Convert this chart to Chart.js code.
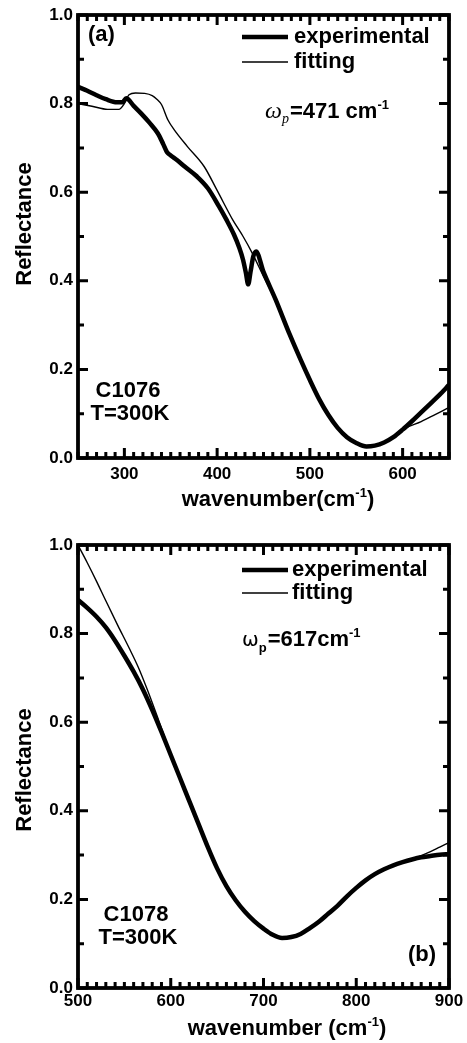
<!DOCTYPE html>
<html>
<head>
<meta charset="utf-8">
<script src="https://cdn.jsdelivr.net/npm/chart.js@4.4.0/dist/chart.umd.min.js"></script>
<style>
    body { margin: 0; background: #fff; }
    #wrap { position: relative; width: 467px; height: 1043px; }
    canvas { position: absolute; left: 0; }
</style>
</head>
<body>
<div id="wrap">
    <canvas id="chartA" width="467" height="520" style="top:0px"></canvas>
    <canvas id="chartB" width="467" height="523" style="top:520px"></canvas>
</div>
<script>
// panel (a): C1076
const waveExpA = [250, 260, 270, 280, 292, 298, 302, 310, 318, 327, 336, 342, 346, 350, 357, 365, 378, 390, 402, 410, 418, 424, 428, 431, 433.5, 436, 439, 442, 450, 463, 478, 490, 500, 510, 520, 530, 540, 550, 561, 570, 580, 590, 600, 610, 620, 630, 640, 650];
const reflExpA = [0.838, 0.829, 0.819, 0.810, 0.803, 0.803, 0.812, 0.795, 0.778, 0.757, 0.733, 0.708, 0.690, 0.683, 0.672, 0.658, 0.636, 0.609, 0.568, 0.538, 0.505, 0.474, 0.447, 0.418, 0.392, 0.420, 0.455, 0.466, 0.420, 0.358, 0.280, 0.222, 0.176, 0.133, 0.097, 0.068, 0.047, 0.034, 0.026, 0.028, 0.035, 0.047, 0.064, 0.083, 0.103, 0.123, 0.143, 0.165];
const waveFitA = [250, 265, 282, 294, 300, 305, 312, 322, 330, 335, 340, 347, 354, 368, 386, 400, 417, 428, 438, 450, 463, 478, 490, 500, 510, 520, 530, 540, 550, 561, 570, 580, 590, 603, 620, 635, 650];
const reflFitA = [0.800, 0.794, 0.787, 0.787, 0.800, 0.820, 0.824, 0.823, 0.818, 0.810, 0.798, 0.763, 0.740, 0.703, 0.658, 0.604, 0.537, 0.500, 0.462, 0.410, 0.356, 0.278, 0.221, 0.175, 0.132, 0.096, 0.067, 0.046, 0.033, 0.025, 0.027, 0.034, 0.046, 0.067, 0.082, 0.098, 0.114];
const xTicksA = [300, 400, 500, 600];

// panel (b): C1078
const waveExpB = [500, 510, 520, 530, 540, 550, 560, 570, 580, 590, 600, 610, 620, 630, 640, 650, 660, 670, 680, 690, 700, 710, 720, 730, 740, 750, 760, 770, 780, 790, 800, 810, 820, 830, 840, 850, 860, 870, 880, 890, 900];
const reflExpB = [0.876, 0.858, 0.838, 0.814, 0.784, 0.750, 0.714, 0.674, 0.628, 0.578, 0.526, 0.474, 0.422, 0.370, 0.318, 0.270, 0.230, 0.198, 0.172, 0.151, 0.134, 0.120, 0.113, 0.115, 0.122, 0.135, 0.150, 0.168, 0.186, 0.207, 0.226, 0.243, 0.257, 0.268, 0.277, 0.284, 0.290, 0.295, 0.298, 0.301, 0.302];
const waveFitB = [500, 510, 520, 530, 543, 555, 565, 575, 587, 600, 610, 620, 630, 640, 650, 660, 670, 680, 690, 700, 710, 720, 730, 740, 750, 760, 770, 780, 790, 800, 810, 820, 830, 840, 850, 860, 870, 880, 890, 900];
const reflFitB = [1.000, 0.960, 0.918, 0.874, 0.818, 0.768, 0.724, 0.672, 0.604, 0.528, 0.474, 0.422, 0.370, 0.318, 0.270, 0.230, 0.198, 0.172, 0.151, 0.134, 0.120, 0.113, 0.115, 0.122, 0.135, 0.150, 0.168, 0.186, 0.207, 0.226, 0.243, 0.257, 0.268, 0.277, 0.284, 0.291, 0.299, 0.308, 0.318, 0.328];
const xTicksB = [500, 600, 700, 800, 900];

const yTicks = [0, 0.2, 0.4, 0.6, 0.8, 1.0];

const BOLD = "bold 22px 'Liberation Sans', Arial, sans-serif";
const SMALL = "bold 13px 'Liberation Sans', Arial, sans-serif";

function toPoints(xs, ys) {
    return xs.map((v, i) => ({ x: v, y: ys[i] }));
}

// draw a string made of pieces, some raised or lowered
function drawPieces(ctx, pieces, x, y) {
    ctx.textAlign = 'left';
    ctx.textBaseline = 'alphabetic';
    let cx = x;
    for (const p of pieces) {
        ctx.font = p.font;
        ctx.fillText(p.t, cx, y + (p.dy || 0));
        cx += ctx.measureText(p.t).width + (p.gap || 0);
    }
}

function piecesWidth(ctx, pieces) {
    let w = 0;
    for (const p of pieces) {
        ctx.font = p.font;
        w += ctx.measureText(p.t).width + (p.gap || 0);
    }
    return w;
}

function framePlugin(opt) {
    return {
        id: 'frame',
        afterDraw(chart) {
            const ctx = chart.ctx;
            const a = chart.chartArea;
            const x = chart.scales.x, y = chart.scales.y;
            ctx.save();
            ctx.strokeStyle = '#000';
            ctx.fillStyle = '#000';

            // inward ticks on all four sides
            ctx.lineWidth = 3;
            ctx.beginPath();
            for (let v = x.min; v <= x.max + 0.01; v += 10) {
                const px = x.getPixelForValue(v);
                const len = (Math.round(v) % 100 === 0) ? 10 : 6;
                ctx.moveTo(px, a.bottom); ctx.lineTo(px, a.bottom - len);
                ctx.moveTo(px, a.top); ctx.lineTo(px, a.top + len);
            }
            for (let i = 0; i <= 10; i++) {
                const py = y.getPixelForValue(i / 10);
                const len = (i % 2 === 0) ? 10 : 6;
                ctx.moveTo(a.left, py); ctx.lineTo(a.left + len, py);
                ctx.moveTo(a.right, py); ctx.lineTo(a.right - len, py);
            }
            ctx.stroke();

            ctx.lineWidth = 3.8;
            ctx.strokeRect(a.left, a.top, a.right - a.left, a.bottom - a.top);

            // legend
            ctx.lineWidth = 4.5;
            ctx.beginPath(); ctx.moveTo(242, opt.legY1); ctx.lineTo(288, opt.legY1); ctx.stroke();
            ctx.lineWidth = 1.4;
            ctx.beginPath(); ctx.moveTo(242, opt.legY2); ctx.lineTo(288, opt.legY2); ctx.stroke();
            ctx.font = BOLD;
            ctx.textAlign = 'left';
            ctx.textBaseline = 'middle';
            ctx.fillText('experimental', opt.legX, opt.legY1);
            ctx.fillText('fitting', opt.legX, opt.legY2);

            // panel tag
            ctx.fillText(opt.tag, opt.tagX, opt.tagY);

            // sample and temperature
            ctx.textAlign = 'center';
            ctx.fillText(opt.sample, opt.sampleX, opt.sampleY);
            ctx.fillText('T=300K', opt.sampleX + 2, opt.sampleY + 23);

            // plasma frequency
            drawPieces(ctx, opt.omega, opt.omX, opt.omY);

            // x title
            const xt = [
                { t: opt.xTitle, font: BOLD },
                { t: '-1', font: SMALL, dy: -9 },
                { t: ')', font: BOLD }
            ];
            const w = piecesWidth(ctx, xt);
            drawPieces(ctx, xt, opt.xtX - w / 2, opt.xtY);

            // y title
            ctx.save();
            ctx.translate(25, opt.ytY);
            ctx.rotate(-Math.PI / 2);
            ctx.font = BOLD;
            ctx.textAlign = 'center';
            ctx.textBaseline = 'middle';
            ctx.fillText('Reflectance', 0, 0);
            ctx.restore();

            ctx.restore();
        }
    };
}

function makeChart(id, exp, fit, xMin, xMax, xTicks, pad, tickPad, opt) {
    return new Chart(document.getElementById(id), {
        type: 'line',
        data: {
            datasets: [
                { data: exp, borderColor: '#000', borderWidth: 4.5, pointRadius: 0, cubicInterpolationMode: 'monotone' },
                { data: fit, borderColor: '#000', borderWidth: 1.4, pointRadius: 0, cubicInterpolationMode: 'monotone' }
            ]
        },
        options: {
            responsive: false,
            animation: false,
            devicePixelRatio: 1,
            layout: { padding: pad },
            plugins: { legend: { display: false }, tooltip: { enabled: false } },
            scales: {
                x: {
                    type: 'linear',
                    min: xMin,
                    max: xMax,
                    afterBuildTicks: (s) => { s.ticks = xTicks.map(v => ({ value: v })); },
                    afterFit: (s) => { s.height = opt.xAxisH; s.paddingLeft = 0; s.paddingRight = 0; },
                    grid: { display: false, drawTicks: false },
                    border: { display: false },
                    ticks: {
                        color: '#000',
                        padding: tickPad,
                        maxRotation: 0,
                        autoSkip: false,
                        font: { family: "'Liberation Sans', Arial, sans-serif", size: 17, weight: 'bold' }
                    }
                },
                y: {
                    min: 0,
                    max: 1,
                    afterBuildTicks: (s) => { s.ticks = yTicks.map(v => ({ value: v })); },
                    afterFit: (s) => { s.width = 78; s.paddingTop = 0; s.paddingBottom = 0; },
                    grid: { display: false, drawTicks: false },
                    border: { display: false },
                    ticks: {
                        color: '#000',
                        padding: 5,
                        callback: (v) => v.toFixed(1),
                        font: { family: "'Liberation Sans', Arial, sans-serif", size: 17, weight: 'bold' }
                    }
                }
            }
        },
        plugins: [framePlugin(opt)]
    });
}

const omegaA = [
    { t: 'ω', font: "italic 24px 'Liberation Serif', serif" },
    { t: 'p', font: "italic 14px 'Liberation Serif', serif", dy: 5, gap: 1 },
    { t: '=471 cm', font: BOLD },
    { t: '-1', font: SMALL, dy: -9 }
];
const omegaB = [
    { t: 'ω', font: "20px 'DejaVu Sans', sans-serif" },
    { t: 'p', font: SMALL, dy: 6, gap: 1 },
    { t: '=617cm', font: BOLD },
    { t: '-1', font: SMALL, dy: -9 }
];

makeChart('chartA', toPoints(waveExpA, reflExpA), toPoints(waveFitA, reflFitA), 250, 650, xTicksA,
    { left: 0, right: 18, top: 15, bottom: 0 }, 6, {
        xAxisH: 62, legX: 294, legY1: 37, legY2: 62,
        tag: '(a)', tagX: 88, tagY: 35,
        sample: 'C1076', sampleX: 128, sampleY: 391,
        omega: omegaA, omX: 265, omY: 118,
        xTitle: 'wavenumber(cm', xtX: 278, xtY: 506, ytY: 224
    });

makeChart('chartB', toPoints(waveExpB, reflExpB), toPoints(waveFitB, reflFitB), 500, 900, xTicksB,
    { left: 0, right: 18, top: 25, bottom: 0 }, 3, {
        xAxisH: 55, legX: 292, legY1: 50, legY2: 73,
        tag: '(b)', tagX: 408, tagY: 435,
        sample: 'C1078', sampleX: 136, sampleY: 395,
        omega: omegaB, omX: 242, omY: 126,
        xTitle: 'wavenumber (cm', xtX: 287, xtY: 515, ytY: 250
    });
</script>
</body>
</html>
